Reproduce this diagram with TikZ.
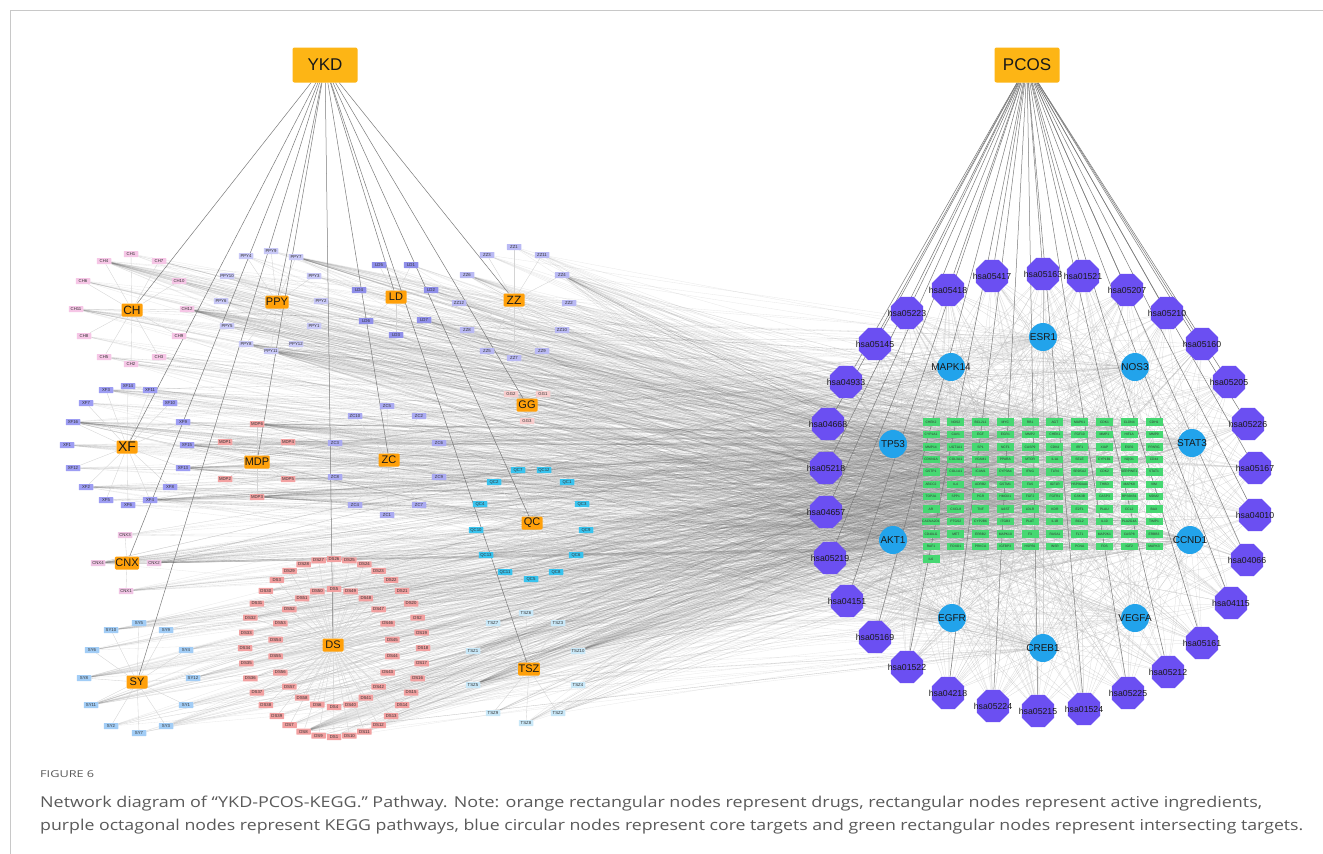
\documentclass[tikz,border=0pt]{standalone}
\usepackage{fontspec}
\usepackage{graphicx}
\setmainfont{Liberation Sans}
\newfontfamily\capfont{Open Sans}
\usetikzlibrary{shapes.geometric,backgrounds}

\definecolor{cBig}{HTML}{FDB515}
\definecolor{cDrug}{HTML}{FFA00A}
\definecolor{cCH}{HTML}{F6C6E6}
\definecolor{cPPY}{HTML}{C9C9F7}
\definecolor{cLD}{HTML}{8F8FEA}
\definecolor{cZZ}{HTML}{B9B9F4}
\definecolor{cGG}{HTML}{F8CDCD}
\definecolor{cXF}{HTML}{9D9DF3}
\definecolor{cMDP}{HTML}{F3A2A2}
\definecolor{cZC}{HTML}{AAAAF2}
\definecolor{cQC}{HTML}{38C3EE}
\definecolor{cCNX}{HTML}{F0C4E4}
\definecolor{cDS}{HTML}{F2A0A0}
\definecolor{cSY}{HTML}{A2CDF6}
\definecolor{cTSZ}{HTML}{C9E8F8}
\definecolor{cTgt}{HTML}{46D872}
\definecolor{cCore}{HTML}{22A3EB}
\definecolor{cPath}{HTML}{6B4FF2}
\definecolor{cFrame}{HTML}{C8C8C8}
\definecolor{cCap}{HTML}{5A5A5A}

\tikzset{
  bigdrug/.style={fill=cBig, rounded corners=2pt, minimum width=65pt, minimum height=35pt,
    inner sep=1pt, font=\fontsize{17}{17}\selectfont, text=black!90},
  drugbox/.style={fill=cDrug, rounded corners=1.2pt, minimum width=21pt, minimum height=13pt,
    inner sep=0.5pt, font=\fontsize{11}{11}\selectfont, text=black!90},
  ingbox/.style={rounded corners=0.5pt, minimum width=14.5pt, minimum height=6pt,
    inner sep=0.4pt, font=\fontsize{4.3}{4.3}\selectfont, text=black!80},
  tgtbox/.style={fill=cTgt, minimum width=17pt, minimum height=7.5pt, inner sep=0.3pt,
    font=\fontsize{3.3}{3.3}\selectfont, text=black!80},
  corenode/.style={circle, fill=cCore, minimum size=28pt, inner sep=0pt},
  coretext/.style={font=\fontsize{10}{10}\selectfont, text=black!90, inner sep=0pt},
  pathnode/.style={regular polygon, regular polygon sides=8, fill=cPath, minimum size=35pt, inner sep=0pt},
  pathtext/.style={font=\fontsize{8.7}{8.7}\selectfont, text=black!90, inner sep=0pt},
  link/.style={draw=black!60, line width=0.3pt, draw opacity=0.15},
  web/.style={draw=black!30, line width=0.25pt, draw opacity=0.5},
  spoke/.style={draw=black!17, line width=0.35pt},
  trunk/.style={draw=black!52, line width=0.5pt},
}

% ingredient lists: name/x/y/number of target links
\def\CHlist{CH1/131/254/5, CH7/159/261/5, CH4/104/261/35, CH6/83/281/10, CH10/179/281/8,
  CH11/76/309/20, CH12/187/309/40, CH8/84/336/5, CH9/179/336/6, CH5/104/357/10, CH3/159/357/10, CH2/131/364/8}
\def\PPYlist{PPY4/246/256/5, PPY9/271/251/5, PPY7/296/257/30, PPY10/227/276/12, PPY3/314/276/6,
  PPY6/221/301/10, PPY2/321/301/6, PPY5/227/326/10, PPY1/314/326/6, PPY8/246/344/30, PPY11/271/351/35, PPY12/296/344/6}
\def\LDlist{LD5/379/265/6, LD1/411/265/6, LD4/359/290/5, LD2/431/290/12, LD6/366/321/6, LD7/424/320/25, LD3/396/335/6}
\def\ZZlist{ZZ1/514/247/5, ZZ3/487/255/6, ZZ11/542/255/8, ZZ6/467/275/20, ZZ4/562/275/35, ZZ12/459/303/8,
  ZZ2/569/303/10, ZZ8/467/330/8, ZZ10/562/330/8, ZZ5/487/351/8, ZZ9/542/351/8, ZZ7/514/358/6}
\def\GGlist{GG2/511/394/12, GG1/543/394/10, GG3/527/421/10}
\def\XFlist{XF3/106/390/20, XF14/128/386/6, XF11/150/390/6, XF7/86/403/8, XF10/170/403/6, XF16/73/422/40,
  XF9/183/422/10, XF1/67/445/15, XF15/187/445/35, XF12/73/468/8, XF13/183/468/35, XF2/86/487/20,
  XF8/170/487/6, XF5/106/500/6, XF6/128/505/5, XF4/150/500/35}
\def\MDPlist{MDP6/257/424/40, MDP1/225/442/10, MDP4/288/442/12, MDP2/225/479/8, MDP5/288/479/8, MDP3/257/497/35}
\def\ZClist{ZC5/387/406/6, ZC10/355/416/6, ZC2/419/416/10, ZC3/335/443/6, ZC6/439/443/10, ZC8/335/477/6,
  ZC9/439/477/8, ZC4/355/505/6, ZC7/419/505/6, ZC1/387/515/5}
\def\QClist{QC7/518/470/6, QC12/544/470/8, QC2/494/482/8, QC1/567/482/8, QC4/480/504/8, QC3/582/504/8,
  QC10/476/530/8, QC9/586/530/8, QC13/486/555/10, QC6/576/555/8, QC11/505/572/8, QC8/556/572/8, QC5/531/579/6}
\def\CNXlist{CNX3/125/535/8, CNX4/98/563/35, CNX2/154/563/35, CNX1/126/591/15}
\def\SYlist{SY5/139/623/10, SY10/111/630/15, SY9/166/630/8, SY6/92/650/10, SY4/186/650/8, SY8/84/678/20,
  SY12/193/678/12, SY11/91/705/20, SY1/186/705/10, SY2/111/726/8, SY7/139/733/5, SY3/166/726/12}
\def\TSZlist{TSZ6/526/613/6, TSZ7/493/623/8, TSZ3/558/623/8, TSZ1/473/651/10, TSZ10/578/651/35,
  TSZ5/473/685/35, TSZ4/578/685/12, TSZ9/493/713/8, TSZ2/558/713/12, TSZ8/526/723/10}
% DS rings, clockwise from the top: number/links
\def\DSouter{26/5,25/5,24/5,23/5,22/5,21/5,20/5,2/5,19/5,18/5,17/5,16/5,15/5,14/5,13/5,12/5,11/5,10/5,
  1/5,9/5,8/35,7/10,39/6,38/6,37/6,36/6,35/6,34/6,33/8,32/12,31/12,30/15,3/10,29/5,28/5,27/5}
\def\DSinner{5/5,49/5,48/5,47/5,46/5,45/5,44/5,43/5,42/5,41/5,40/5,4/5,6/5,58/5,57/5,56/5,55/5,54/5,53/5,52/5,51/5,50/5}

\newcommand\ingcluster[2]{%
  \foreach \n/\x/\y/\c in #2 {\node[ingbox, fill=#1] (\n) at (\x,\y) {\n};}}
\newcommand\spokes[2]{%
  \foreach \n/\x/\y/\c in #2 {\draw[spoke] (#1) -- (\n);}}
\newcommand\linksfrom[2]{%
  \foreach \j in {1,...,#2}{%
    \pgfmathrandominteger{\rndv}{1}{141}%
    \pgfmathtruncatemacro{\tgt}{\rndv>121 ? 112+mod(\rndv,10) : \rndv}%
    \draw[link] (#1) -- (T\tgt);}}
\newcommand\clusterlinks[1]{%
  \foreach \n/\x/\y/\c in #1 {\linksfrom{\n}{\c}}}

\begin{document}
\begin{tikzpicture}[x=1pt,y=-1pt]
\pgfmathsetseed{2718}
\path[use as bounding box] (0,0) rectangle (1323,854);
\begin{pgfonlayer}{background}
  \fill[white] (0,0) rectangle (1323,854);
\end{pgfonlayer}
\draw[cFrame, line width=0.8pt] (1323,10) -- (10,10) -- (10,854);

% hubs
\node[bigdrug] (YKD) at (325,65) {YKD};
\node[bigdrug] (PCOS) at (1027,65) {PCOS};

% herbs
\node[drugbox, font=\fontsize{12}{12}\selectfont] (CH) at (132,310) {CH};
\node[drugbox] (PPY) at (277,302) {PPY};
\node[drugbox] (LD) at (396,297) {LD};
\node[drugbox, font=\fontsize{12}{12}\selectfont] (ZZ) at (514,300) {ZZ};
\node[drugbox] (GG) at (527,405) {GG};
\node[drugbox, font=\fontsize{14}{14}\selectfont] (XF) at (127,447) {XF};
\node[drugbox] (MDP) at (257,462) {MDP};
\node[drugbox] (ZC) at (389,460) {ZC};
\node[drugbox] (QC) at (532,523) {QC};
\node[drugbox] (CNX) at (127,563) {CNX};
\node[drugbox] (DS) at (333,645) {DS};
\node[drugbox] (SY) at (137,682) {SY};
\node[drugbox] (TSZ) at (529,669) {TSZ};

% active ingredients
\ingcluster{cCH}{\CHlist}
\ingcluster{cPPY}{\PPYlist}
\ingcluster{cLD}{\LDlist}
\ingcluster{cZZ}{\ZZlist}
\ingcluster{cGG}{\GGlist}
\ingcluster{cXF}{\XFlist}
\ingcluster{cMDP}{\MDPlist}
\ingcluster{cZC}{\ZClist}
\ingcluster{cQC}{\QClist}
\ingcluster{cCNX}{\CNXlist}
\ingcluster{cSY}{\SYlist}
\ingcluster{cTSZ}{\TSZlist}
\foreach \m/\c [count=\i from 0] in \DSouter {
  \pgfmathsetmacro{\ang}{10*\i}
  \node[ingbox, fill=cDS] (DS\m) at ({334+89*sin(\ang)},{648-89*cos(\ang)}) {DS\m};}
\foreach \m/\c [count=\i from 0] in \DSinner {
  \pgfmathsetmacro{\ang}{360/22*\i}
  \node[ingbox, fill=cDS] (DS\m) at ({334+59*sin(\ang)},{648-59*cos(\ang)}) {DS\m};}

% intersecting targets
\foreach \g [count=\i] in {CHEK2,NOS2,BCL2L1,MYC,RB1,AGT,MAPK1,CDK1,CLDN4,CDH1,
  CYP1A1,CAV1,EGF,EGR1,MMP2,CHEK1,FGF10,MMP1,HIF1A,MMP9,
  MMP14,UGT1A1,SP1,NCF1,CASP9,CDK4,IRF1,XIAP,ESR2,PPARG,
  CDKN1A,COL3A1,VCAM1,PPARA,MTOR,IL1A,SELE,CYP1B1,NQO1,CD44,
  GSTP1,COL1A1,ICAM1,CYP3A4,IFNG,TLR4,SRD5A2,CDK2,SERPINE1,STAT1,
  ABCC2,IL4,ADRB2,GSTM1,FAS,IGF1R,HSP90AA1,THBD,MAPK8,VIM,
  TOP2A,SPP1,PGR,HMOX1,FGF2,FGFR1,GSK3B,CASP3,RPS6KB1,MDM2,
  AR,CXCL8,TNF,IL6ST,LDLR,KDR,E2F1,PLAU,CCL2,BAX,
  CACNA2D1,PTGS2,CYP2B6,ITGB3,PLAT,IL1B,BCL2,IL10,PLA2G4A,TIMP1,
  CD40LG,MET,ERBB2,MAPK10,F3,RASA1,FLT1,MAP2K1,CASP8,ERBB3,
  RAF1,FOXO1,PRKCA,IGFBP3,HSPB1,INSR,PCNA,FOS,IGF2,MAPK3,
  IL6} {
  \pgfmathtruncatemacro{\gc}{mod(\i-1,10)}
  \pgfmathtruncatemacro{\gr}{floor((\i-1)/10)}
  \node[tgtbox] (T\i) at ({931+24.78*\gc},{422+12.45*\gr}) {\g};}

% core targets
\foreach \n/\x/\y [count=\i from 112] in {ESR1/1043/337, MAPK14/951/367, NOS3/1135/367, TP53/893/444,
  STAT3/1192/443, AKT1/893/540, CCND1/1190/540, EGFR/952/618, VEGFA/1135/618, CREB1/1043/648} {
  \node[corenode, label={[coretext]center:\n}] (T\i) at (\x,\y) {};}

% KEGG pathways
\foreach \n/\x/\y [count=\i] in {hsa05163/1043/274, hsa01521/1083/276, hsa05207/1127/290, hsa05210/1167/313,
  hsa05160/1202/344, hsa05205/1229/382, hsa05226/1248/424, hsa05167/1255/468, hsa04010/1255/515,
  hsa04066/1247/560, hsa04115/1231/603, hsa05161/1202/643, hsa05212/1168/672, hsa05225/1128/693,
  hsa01524/1084/709, hsa05215/1038/711, hsa05224/993/706, hsa04218/948/693, hsa01522/907/667,
  hsa05169/875/637, hsa04151/847/601, hsa05219/830/558, hsa04657/826/512, hsa05218/826/468,
  hsa04668/828/424, hsa04933/846/382, hsa05145/875/344, hsa05223/907/313, hsa05418/948/290,
  hsa05417/992/276} {
  \node[pathnode, label={[pathtext]center:\n}] (O\i) at (\x,\y) {};}

% connectors, all behind the nodes
\begin{pgfonlayer}{background}
  \clusterlinks{\CHlist}
  \clusterlinks{\PPYlist}
  \clusterlinks{\LDlist}
  \clusterlinks{\ZZlist}
  \clusterlinks{\GGlist}
  \clusterlinks{\XFlist}
  \clusterlinks{\MDPlist}
  \clusterlinks{\ZClist}
  \clusterlinks{\QClist}
  \clusterlinks{\CNXlist}
  \clusterlinks{\SYlist}
  \clusterlinks{\TSZlist}
  \foreach \m/\c in \DSouter {\linksfrom{DS\m}{\c}}
  \foreach \m/\c in \DSinner {\linksfrom{DS\m}{\c}}
  % pathway-target web
  \foreach \i in {1,...,30} {
    \foreach \k in {112,...,121} {\draw[web] (O\i) -- (T\k);}
    \foreach \j in {1,...,8} {
      \pgfmathrandominteger{\rndv}{1}{111}
      \draw[web] (O\i) -- (T\rndv);}}
  % herb-ingredient spokes
  \spokes{CH}{\CHlist}
  \spokes{PPY}{\PPYlist}
  \spokes{LD}{\LDlist}
  \spokes{ZZ}{\ZZlist}
  \spokes{GG}{\GGlist}
  \spokes{XF}{\XFlist}
  \spokes{MDP}{\MDPlist}
  \spokes{ZC}{\ZClist}
  \spokes{QC}{\QClist}
  \spokes{CNX}{\CNXlist}
  \spokes{SY}{\SYlist}
  \spokes{TSZ}{\TSZlist}
  \foreach \m/\c in \DSouter {\draw[spoke] (DS) -- (DS\m);}
  \foreach \m/\c in \DSinner {\draw[spoke] (DS) -- (DS\m);}
  % hub connectors
  \foreach \d in {CH,PPY,LD,ZZ,GG,XF,MDP,ZC,QC,CNX,DS,SY,TSZ} {\draw[trunk] (YKD) -- (\d);}
  \foreach \i in {1,...,30} {\draw[trunk] (PCOS) -- (O\i);}
\end{pgfonlayer}

% caption
\node[anchor=base west, inner sep=0pt, text=cCap, font=\capfont\fontsize{9.5}{9.5}\selectfont] (cap0) at (40,777)
  {\resizebox{54pt}{\height}{FIGURE 6}};
\node[anchor=base west, inner sep=0pt, text=cCap, font=\capfont\fontsize{15}{15}\selectfont] (cap1) at (40,807)
  {\resizebox{1222pt}{\height}{Network diagram of “YKD-PCOS-KEGG.” Pathway. Note: orange rectangular nodes represent drugs, rectangular nodes represent active ingredients,}};
\node[anchor=base west, inner sep=0pt, text=cCap, font=\capfont\fontsize{15}{15}\selectfont] (cap2) at (40,830)
  {\resizebox{1263pt}{\height}{purple octagonal nodes represent KEGG pathways, blue circular nodes represent core targets and green rectangular nodes represent intersecting targets.}};
\end{tikzpicture}
\end{document}
